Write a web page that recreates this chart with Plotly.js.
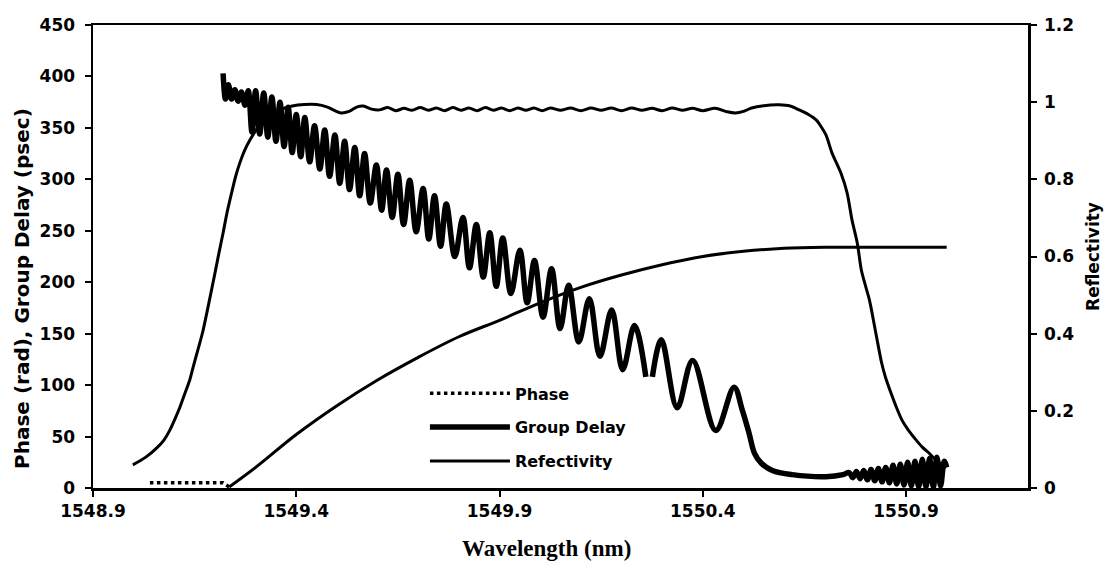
<!DOCTYPE html>
<html>
<head>
<meta charset="utf-8">
<script src="https://cdn.plot.ly/plotly-3.0.1.min.js"></script>
<style>
  html, body { margin: 0; padding: 0; background: #fff; }
  #chart { width: 1112px; height: 572px; }
</style>
</head>
<body>
<div id="chart"></div>
<script>
// Reflectivity (right axis, 0..1.2)
const reflWl = [1548.998, 1549.030, 1549.057, 1549.075, 1549.089, 1549.102, 1549.114, 1549.126, 1549.138, 1549.148,
  1549.158, 1549.170, 1549.180, 1549.190, 1549.200, 1549.210, 1549.220, 1549.230, 1549.241, 1549.251,
  1549.261, 1549.273, 1549.286, 1549.305, 1549.330, 1549.360, 1549.390, 1549.420, 1549.450, 1549.475,
  1549.495, 1549.510, 1549.530, 1549.550, 1549.565, 1549.585, 1549.605, 1549.625, 1549.645, 1549.665,
  1549.685, 1549.705, 1549.725, 1549.745, 1549.765, 1549.785, 1549.805, 1549.825, 1549.845, 1549.865,
  1549.885, 1549.905, 1549.925, 1549.945, 1549.965, 1549.985, 1550.005, 1550.025, 1550.050, 1550.075,
  1550.100, 1550.125, 1550.150, 1550.175, 1550.200, 1550.225, 1550.250, 1550.275, 1550.300, 1550.325,
  1550.350, 1550.375, 1550.400, 1550.430, 1550.460, 1550.480, 1550.500, 1550.520, 1550.550, 1550.588,
  1550.615, 1550.637, 1550.660, 1550.679, 1550.692, 1550.703, 1550.718, 1550.730, 1550.740, 1550.755,
  1550.767, 1550.780, 1550.790, 1550.800, 1550.810, 1550.826, 1550.840, 1550.850, 1550.863, 1550.876,
  1550.890, 1550.907, 1550.925, 1550.940, 1550.957, 1550.970, 1550.981, 1550.998];
const reflVal = [0.060, 0.080, 0.104, 0.125, 0.150, 0.180, 0.210, 0.245, 0.280, 0.320,
  0.358, 0.405, 0.454, 0.505, 0.557, 0.610, 0.661, 0.715, 0.765, 0.808,
  0.842, 0.875, 0.902, 0.933, 0.960, 0.980, 0.990, 0.994, 0.994, 0.988,
  0.978, 0.972, 0.976, 0.988, 0.990, 0.982, 0.980, 0.986, 0.978, 0.984,
  0.979, 0.986, 0.979, 0.985, 0.978, 0.986, 0.979, 0.985, 0.978, 0.986,
  0.979, 0.985, 0.978, 0.985, 0.979, 0.985, 0.978, 0.985, 0.979, 0.985,
  0.978, 0.985, 0.979, 0.985, 0.978, 0.985, 0.979, 0.984, 0.978, 0.985,
  0.979, 0.984, 0.978, 0.984, 0.975, 0.972, 0.976, 0.985, 0.991, 0.993,
  0.990, 0.980, 0.968, 0.954, 0.935, 0.915, 0.868, 0.840, 0.816, 0.765,
  0.695, 0.635, 0.565, 0.525, 0.487, 0.400, 0.324, 0.285, 0.246, 0.210,
  0.176, 0.148, 0.124, 0.106, 0.090, 0.076, 0.065, 0.052];

// Phase (rad, left axis): flat dotted start, then the rising part
const phaseWl = [1549.04, 1549.06, 1549.08, 1549.10, 1549.12, 1549.14, 1549.16, 1549.18, 1549.20, 1549.22,
  1549.235, 1549.30, 1549.40, 1549.50, 1549.60, 1549.70, 1549.80, 1549.90, 1550.00, 1550.10,
  1550.20, 1550.30, 1550.40, 1550.50, 1550.60, 1550.70, 1550.80, 1550.90, 1551.00];
const phaseVal = [5, 5, 5, 5, 5, 5, 5, 5, 5, 5,
  1, 20, 52, 80, 105, 127, 147, 163, 180, 195,
  207, 217, 225, 230, 233, 234, 234, 234, 234];
const phaseFlatCount = 11;

// Group delay (psec, left axis)
const gdWl = [1549.220, 1549.226, 1549.233, 1549.241, 1549.249, 1549.257, 1549.265, 1549.274,
  1549.282, 1549.291, 1549.300, 1549.310, 1549.320, 1549.330, 1549.340, 1549.350, 1549.360, 1549.370,
  1549.380, 1549.390, 1549.400, 1549.411, 1549.421, 1549.433, 1549.445, 1549.458, 1549.470, 1549.482,
  1549.495, 1549.507, 1549.519, 1549.531, 1549.544, 1549.556, 1549.568, 1549.582, 1549.597, 1549.610,
  1549.622, 1549.636, 1549.650, 1549.664, 1549.679, 1549.695, 1549.712, 1549.726, 1549.740, 1549.755,
  1549.769, 1549.790, 1549.810, 1549.826, 1549.843, 1549.860, 1549.876, 1549.892, 1549.908, 1549.928,
  1549.950, 1549.968, 1549.986, 1550.007, 1550.028, 1550.049, 1550.070, 1550.095, 1550.121, 1550.147,
  1550.176, 1550.203, 1550.232, 1550.260, 1550.268, 1550.276, 1550.298, 1550.337, 1550.375, 1550.432,
  1550.477, 1550.497, 1550.514, 1550.527, 1550.544, 1550.571, 1550.620, 1550.703, 1550.745,
  1550.760, 1550.769, 1550.778, 1550.787, 1550.796, 1550.805, 1550.814, 1550.823, 1550.832, 1550.841,
  1550.850, 1550.859, 1550.868, 1550.877, 1550.886, 1550.895, 1550.904, 1550.913, 1550.922, 1550.931,
  1550.940, 1550.949, 1550.958, 1550.967, 1550.976, 1550.985, 1550.994, 1551.000];
const gdVal = [403, 378, 392, 378, 387, 376, 385, 372,
  386, 346, 386, 344, 384, 341, 380, 337, 375, 332,
  370, 326, 363, 322, 360, 317, 352, 310, 348, 303,
  343, 296, 337, 290, 331, 284, 325, 277, 314, 270,
  309, 263, 305, 256, 299, 249, 291, 242, 284, 235,
  276, 225, 263, 214, 256, 205, 248, 196, 243, 189,
  231, 180, 221, 166, 213, 155, 197, 142, 184, 128,
  173, 115, 158, 108, null, 108, 144, 78, 124, 56,
  98, 76, 53, 34, 24, 17, 13, 11, 13,
  15, 10, 16, 9, 17, 8, 18, 7, 19, 6,
  20, 5, 22, 4, 23, 3, 25, 2, 26, 1,
  28, 1, 29, 1, 30, 2, 26, 20];

const ink = '#000000';
const boldSans = (size) => ({family: 'DejaVu Sans', size: size, color: ink, weight: 'bold'});

const traces = [
  {
    x: phaseWl.slice(0, phaseFlatCount), y: phaseVal.slice(0, phaseFlatCount),
    name: 'Phase', legendgroup: 'phase', mode: 'lines',
    line: {color: ink, width: 3.5, dash: 'dot'}
  },
  {
    x: phaseWl.slice(phaseFlatCount - 1), y: phaseVal.slice(phaseFlatCount - 1),
    name: 'Phase', legendgroup: 'phase', showlegend: false, mode: 'lines',
    line: {color: ink, width: 3, shape: 'spline'}
  },
  {
    x: gdWl, y: gdVal, name: 'Group Delay', legendgroup: 'gd', mode: 'lines',
    line: {color: ink, width: 5.5, shape: 'spline', smoothing: 1}
  },
  {
    x: reflWl, y: reflVal, name: 'Refectivity', legendgroup: 'refl', mode: 'lines',
    yaxis: 'y2', line: {color: ink, width: 3, shape: 'spline', smoothing: 0.8}
  }
];

const axisCommon = {
  showline: true, linecolor: ink, linewidth: 2.5,
  ticks: 'outside', ticklen: 6, tickwidth: 2, tickcolor: ink,
  showgrid: false, zeroline: false,
  tickfont: boldSans(17)
};

const layout = {
  width: 1112, height: 572,
  margin: {l: 93, r: 84, t: 25, b: 84},
  paper_bgcolor: '#ffffff', plot_bgcolor: '#ffffff',
  separators: '.',
  showlegend: true,
  legend: {
    x: 0.355, xanchor: 'left', y: 0.241, yanchor: 'top',
    font: boldSans(16), bgcolor: 'rgba(0,0,0,0)', borderwidth: 0,
    tracegroupgap: 10, itemwidth: 80, traceorder: 'grouped'
  },
  xaxis: Object.assign({}, axisCommon, {
    range: [1548.9, 1551.2], tick0: 1548.9, dtick: 0.5, tickformat: '.1f', mirror: true
  }),
  yaxis: Object.assign({}, axisCommon, {
    range: [0, 450], dtick: 50, ticklabelstandoff: 6
  }),
  yaxis2: Object.assign({}, axisCommon, {
    range: [0, 1.2], dtick: 0.2, overlaying: 'y', side: 'right', ticklabelstandoff: 4,
    title: {text: 'Reflectivity', font: boldSans(17), standoff: 14}
  }),
  annotations: [
    {
      text: 'Wavelength (nm)', xref: 'paper', yref: 'paper',
      x: 0.485, y: -0.13, xanchor: 'center', yanchor: 'middle', showarrow: false,
      font: {family: 'Liberation Serif', size: 23, color: ink, weight: 'bold'}
    },
    {
      text: 'Phase (rad), Group Delay (psec)', xref: 'paper', yref: 'paper',
      x: -0.076, y: 0.432, xanchor: 'center', yanchor: 'middle', textangle: -90, showarrow: false,
      font: boldSans(20)
    }
  ]
};

Plotly.newPlot('chart', traces, layout, {displayModeBar: false, staticPlot: true});
</script>
</body>
</html>
